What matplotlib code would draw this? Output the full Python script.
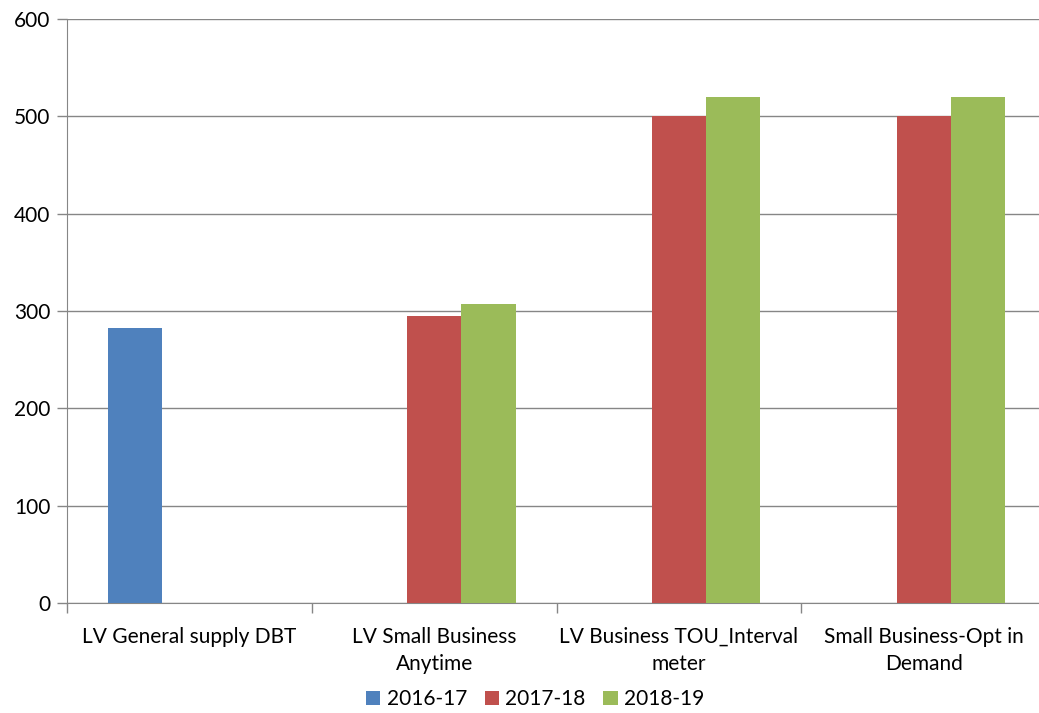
import numpy as np
import matplotlib
matplotlib.use('Agg')
import matplotlib.pyplot as plt

plt.rcParams['font.family'] = ['Lato', 'DejaVu Sans']

categories = ['LV General supply DBT', 'LV Small Business\nAnytime',
              'LV Business TOU_Interval\nmeter', 'Small Business-Opt in\nDemand']
series_names = ['2016-17', '2017-18', '2018-19']
values_2016 = [282, np.nan, np.nan, np.nan]
values_2017 = [np.nan, 295, 500, 500]
values_2018 = [np.nan, 307, 520, 520]
colors = ['#4f81bd', '#c0504d', '#9bbb59']

fig = plt.figure(figsize=(10.39, 7.13), dpi=100)
ax = fig.add_axes([0.0645, 0.1543, 0.9423, 0.8191])

x = np.arange(len(categories))
width = 0.222
for i, (name, vals) in enumerate(zip(series_names, [values_2016, values_2017, values_2018])):
    ax.bar(x + (i - 1) * width, vals, width, color=colors[i], label=name, zorder=3)

ax.set_ylim(0, 600)
ax.set_xlim(-0.5, len(categories) - 0.5)
ax.set_yticks(range(0, 601, 100))
ax.yaxis.grid(True, color='#868686', linewidth=1, zorder=0)
ax.set_xticks(x)
ax.set_xticklabels(categories, fontsize=15, linespacing=1.45)
ax.tick_params(axis='x', length=0, pad=17)
ax.set_xticks(np.arange(-0.5, len(categories) - 0.4, 1), minor=True)
ax.tick_params(axis='x', which='minor', length=7, color='#868686', width=1)
ax.tick_params(axis='y', labelsize=15, length=7, color='#868686', width=1, pad=5)

for side in ['top', 'right']:
    ax.spines[side].set_visible(False)
for side in ['left', 'bottom']:
    ax.spines[side].set_color('#868686')

# legend placed in figure coordinates, below the category labels
fig.legend(*ax.get_legend_handles_labels(), loc='lower center',
           bbox_to_anchor=(0.515, 0.002), ncol=3, frameon=False,
           fontsize=15, handlelength=0.7, handleheight=0.7, handletextpad=0.3,
           columnspacing=0.85, borderaxespad=0, borderpad=0.1)

fig.savefig('out.png', dpi=100)
